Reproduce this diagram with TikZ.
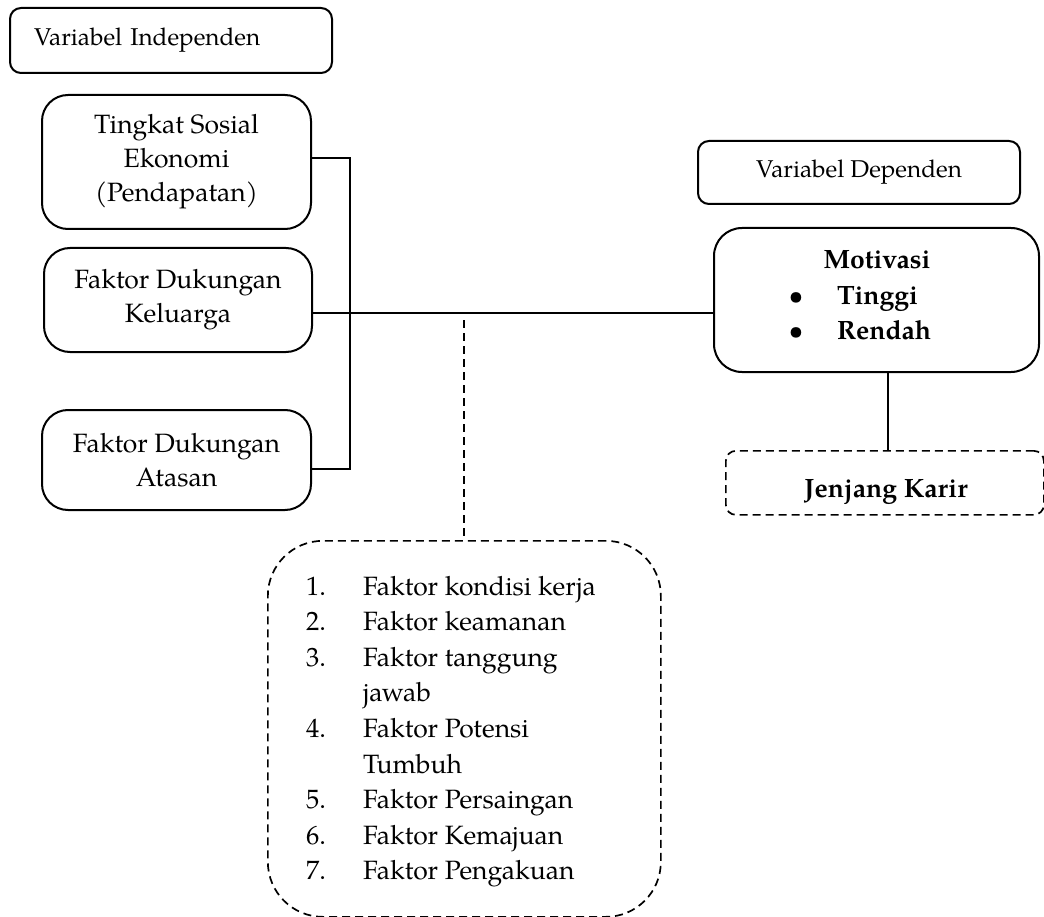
\documentclass[tikz,border=0pt]{standalone}
\usepackage{fontspec}
\setmainfont{TeX Gyre Pagella}
\begin{document}
\begin{tikzpicture}[x=1pt,y=-1pt,
  box/.style={draw, line width=2pt, rounded corners=#1, inner sep=0pt, anchor=north west},
  box/.default=22pt,
  dbox/.style={draw, line width=1.7pt, dash pattern=on 8pt off 5pt, rounded corners=#1, inner sep=0pt, anchor=north west},
  dbox/.default=10pt,
  conn/.style={line width=2pt},
  dconn/.style={line width=1.7pt, dash pattern=on 8pt off 5pt},
  mainfont/.style={font=\fontsize{26.5}{34}\selectfont},
  lblfont/.style={font=\fontsize{24.3}{30}\selectfont},
  lst/.style={mainfont, anchor=base west, inner sep=0pt}
]
\useasboundingbox (0,0) rectangle (1044,917);

% labels
\node[box=11pt, lblfont, minimum width=322pt, minimum height=65pt, inner xsep=24pt, text width=274pt, align=left] (vi) at (9,7) {Variabel Independen};
\node[box=11pt, lblfont, minimum width=322pt, minimum height=63pt, align=center] (vd) at (697,140) {Variabel Dependen};

% independent variables
\node[box=26pt, mainfont, minimum width=269pt, minimum height=134pt, align=center] (tse) at (41,94) {Tingkat Sosial\\Ekonomi\\(Pendapatan)};
\node[box=26pt, mainfont, minimum width=268pt, minimum height=104pt, align=center] (kel) at (43,247) {Faktor Dukungan\\Keluarga};
\node[box=26pt, mainfont, minimum width=269pt, minimum height=100pt, align=center] (ata) at (41,409) {Faktor Dukungan\\Atasan};

% dependent variable
\node[box=28pt, minimum width=325pt, minimum height=144pt] (mot) at (713,227) {};
\node[mainfont, anchor=base, inner sep=0pt] (motT) at (877,269) {\bfseries Motivasi};
\node[mainfont, anchor=base, inner sep=0pt] (b1) at (796,305) {\textbullet};
\node[mainfont, anchor=base west, inner sep=0pt] (t1) at (837,305) {\bfseries Tinggi};
\node[mainfont, anchor=base, inner sep=0pt] (b2) at (796,339) {\textbullet};
\node[mainfont, anchor=base west, inner sep=0pt] (t2) at (837,339) {\bfseries Rendah};

% Jenjang Karir
\node[dbox=10pt, minimum width=318pt, minimum height=64pt] (jk) at (725,450) {};
\node[mainfont, anchor=base, inner sep=0pt] (jkT) at (886,497) {\bfseries Jenjang Karir};

% factors box
\node[dbox=55pt, minimum width=393pt, minimum height=376pt] (fac) at (267,540) {};
\foreach \n/\t/\y [count=\i] in {
  1./Faktor kondisi kerja/595,
  2./Faktor keamanan/630.6,
  3./Faktor tanggung/666.2,
  /jawab/701.8,
  4./Faktor Potensi/737.4,
  /Tumbuh/773,
  5./Faktor Persaingan/808.6,
  6./Faktor Kemajuan/844.2,
  7./Faktor Pengakuan/879.8}{
  \node[lst] (n\i) at (306,\y) {\n};
  \node[lst] (f\i) at (363,\y) {\t};
}

% connectors
\coordinate (bt) at (350,158);
\coordinate (bb) at (350,469);
\coordinate (ml) at (500,313);
\coordinate (dt) at (464,320);
\coordinate (mj) at (888,400);

\draw[conn] (tse.east |- bt) -- (bt) -- (bb) -- (ata.east |- bb);
\draw[conn] (kel.east |- ml) -- (mot.west |- ml);
\draw[dconn] (dt) -- (dt |- fac.north);
\draw[conn] (mot.south -| mj) -- (jk.north -| mj);
\end{tikzpicture}
\end{document}
